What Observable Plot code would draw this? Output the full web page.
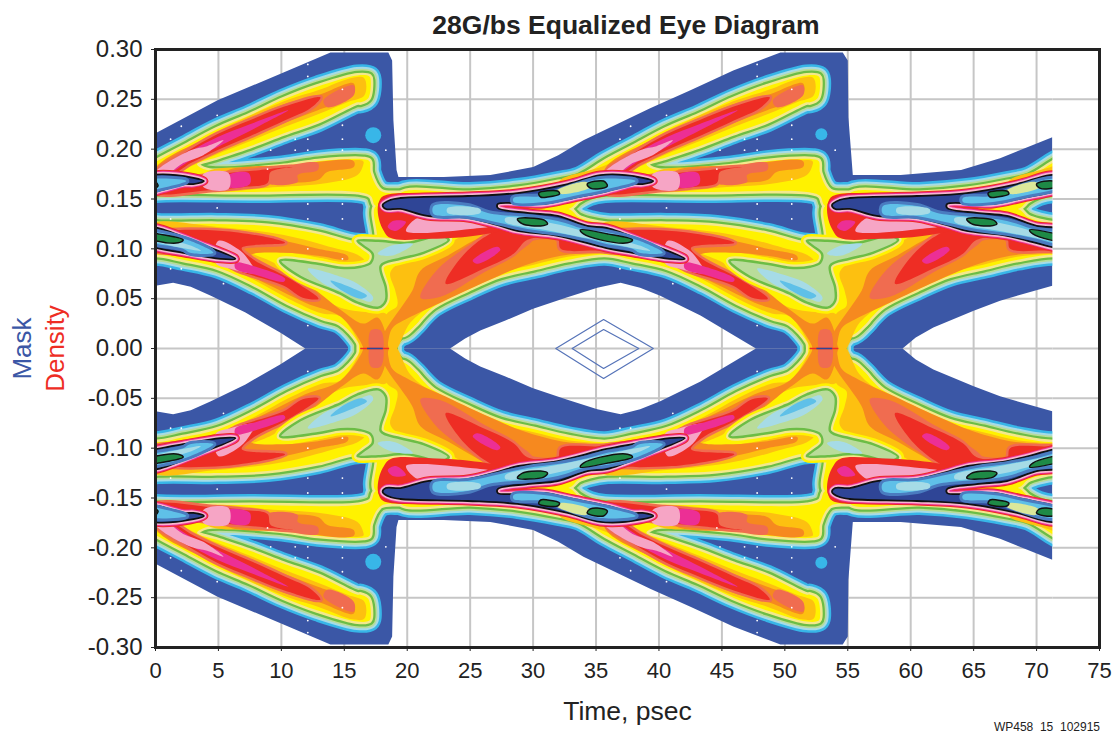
<!DOCTYPE html>
<html><head><meta charset="utf-8">
<script src="https://cdn.jsdelivr.net/npm/d3@7"></script>
<script src="https://cdn.jsdelivr.net/npm/@observablehq/plot@0.6"></script>
<style>
body{margin:0;background:#fff;width:1114px;height:735px;overflow:hidden;font-family:"Liberation Sans",Arial,sans-serif}
#title{height:40px;line-height:50px;font-weight:bold;font-size:26.5px;color:#222;text-align:center;width:1252px}
#cap{height:15px;line-height:15px;font-size:12px;color:#222;text-align:right;width:1100px}
svg{display:block}
</style></head><body>
<div id="title">28G/bs Equalized Eye Diagram</div>
<div id="chart"></div>
<div id="cap">WP458&nbsp; 15&nbsp; 102915</div>
<script>
const xTicks=[0,5,10,15,20,25,30,35,40,45,50,55,60,65,70,75];
const yTicks=[-0.30,-0.25,-0.20,-0.15,-0.10,-0.05,0,0.05,0.10,0.15,0.20,0.25,0.30];
const cycles=[-35.7,0,35.7,71.4];
// blue mask outline, upper half
const mask=[[0,.216],[4.93,.249],[10.17,.277],[13.9,.297],[18.5,.297],[18.8,.289],[18.9,.229],[19.15,.179],[19.3,.172],[22.9,.172],[26.6,.174],[30,.182],[32,.194],[34,.209],[39.3,.241],[42.5,.259],[45.9,.279],[49.65,.297],[54.6,.297],[55,.289],[55.05,.232],[55.4,.174],[59.2,.174],[64,.179],[67.1,.191],[71.25,.212],[71.25,.063],[67.1,.048],[65,.038],[61.8,.021],[60.4,.011],[59.35,0],[47.7,0],[45.7,.015],[43.3,.033],[40.1,.053],[38.5,.061],[36.95,.066],[35.1,.061],[32.6,.051],[30,.04],[27.8,.028],[25.8,.018],[24.6,.01],[23.4,0],[11.9,0],[10.9,.008],[9.9,.016],[7.15,.036],[4.4,.053],[2.8,.062],[1.4,.066],[0,.063]];
const diamondOuter=[[31.8,0],[35.6,.029],[39.55,0],[35.6,-.03]];
const diamondInner=[[33.1,0],[35.6,.019],[38.4,0],[35.6,-.02]];
// yellow contours, one period
const bandTop=[[-16.2,.156],[-10.7,.156],[-6.9,.16],[-3.7,.167],[-2,.172],[.1,.188],[2.2,.202],[4.9,.22],[7.5,.234],[10.2,.25],[12.9,.263],[16.05,.274],[17,.273],[17.1,.269],[16.9,.251],[16.3,.247],[16.05,.247],[12.9,.228],[10.2,.216],[7.5,.203],[4.9,.192],[3.3,.185],[4.1,.179],[10.2,.183],[12.9,.188],[16.5,.19],[17,.188],[17.1,.176],[17.9,.158],[19.5,.156],[21.05,.156],[21.05,.138],[17.5,.143],[17.1,.153],[16.05,.157],[7.5,.157],[0,.157],[-1.2,.154],[-2.1,.148],[-2.9,.14],[-16.2,.14]];
const bandLow=[[-16.2,.14],[-2.9,.14],[-2.1,.132],[-1.2,.128],[.2,.125],[4.9,.125],[8.9,.123],[12.9,.115],[16.05,.105],[17.5,.108],[17.5,.143],[21.05,.143],[21.05,.03],[19.5,.014],[18.9,.005],[18.8,-.004],[16.3,-.004],[16.1,.006],[14.7,.025],[13.25,.031],[10.55,.046],[7.95,.064],[5,.081],[2.2,.089],[0,.094],[-2.9,.089],[-5.6,.081],[-8.3,.073],[-10.9,.059],[-13.6,.042],[-16.2,.014]];
// gold
const goldLeft=[[-.4,.124],[4.9,.122],[10.2,.114],[14.15,.101],[16.05,.094],[16.6,.088],[16.05,.082],[13.35,.09],[10.7,.096],[7.3,.098],[9.4,.086],[11,.07],[14.7,.041],[17.3,.036],[18.4,.034],[18.4,-.004],[16.3,-.004],[16.3,.001],[14.7,.032],[13.25,.035],[10.55,.05],[7.95,.068],[5,.085],[2.2,.092],[.1,.096],[-.4,.096]];
const goldRight=[[18.4,.035],[19.2,.043],[19.05,.058],[18.65,.076],[19.45,.086],[21.05,.09],[22.9,.103],[24.8,.116],[26.05,.123],[27.4,.124],[31.95,.115],[35.35,.101],[40.1,.091],[38,.097],[35.35,.095],[32.75,.092],[30.05,.084],[27.4,.076],[24.8,.062],[22.1,.045],[20.25,.026],[18.9,-.004],[17.5,-.004]];
const goldRidge=[[-3.6,.158],[-3.6,.168],[.1,.184],[4.9,.218],[10.2,.248],[12.9,.259],[15.75,.272],[16.6,.271],[16.6,.254],[15.25,.247],[12.9,.235],[10.2,.222],[7.5,.208],[4.9,.195],[3.35,.186],[1.2,.171],[.1,.158]];
const goldMid=[[4.1,.177],[10.2,.181],[12.9,.185],[16.5,.188],[16.5,.184],[16.05,.174],[13.65,.166],[9.7,.162],[3.8,.16]];
// orange
const orangeLeft=[[5.4,.116],[10.2,.108],[12.9,.1],[15.25,.093],[15.3,.089],[12.9,.093],[10.2,.096],[7.5,.093],[8.35,.078],[11.9,.065],[14.7,.039],[16.5,.025],[17.65,.031],[18.4,.008],[18.4,-.004],[16.5,-.004],[16.5,.001],[14.7,.032],[11.9,.046],[7.95,.07],[4.9,.085],[2.2,.093],[.1,.095],[-.4,.098],[-.4,.118]];
const orangeRight=[[18.4,.021],[19.45,.04],[20.4,.058],[21.05,.078],[23.2,.093],[25.25,.108],[26.6,.116],[32.75,.108],[35.35,.098],[32.2,.093],[29.25,.083],[26.4,.068],[22.65,.046],[20,.03],[18.8,.02],[18.2,-.004],[17.5,-.004]];
const orangeRidge=[[.1,.182],[4.9,.216],[10.2,.245],[12.9,.254],[15.75,.266],[15.65,.253],[12.9,.239],[10.2,.226],[7.5,.211],[4.9,.197],[3,.186],[1.2,.174],[.1,.168]];
const orangeMid=[[5.55,.177],[10.7,.184],[15.75,.188],[15.75,.182],[13.65,.177],[12.9,.169],[9.7,.166],[5.55,.163]];
// salmon
const salmonRight=[[21.05,.051],[22.1,.075],[23.7,.093],[25.8,.108],[30.05,.111],[28.45,.093],[26.05,.076],[22.65,.052]];
const salmonRidge=[[13.35,.249],[15.75,.264],[15.75,.254],[13.65,.242]];
const salmonMid=[[8.9,.177],[10.7,.184],[12.9,.186],[12.9,.179],[11.3,.174],[11.3,.167],[8.9,.166]];
const salmonCross=[[17.1,.018],[17.9,.018],[18,-.004],[17.1,-.004]];
// red
const redRight=[[23.05,.065],[24.2,.09],[26.05,.111],[27.65,.12],[31.6,.113],[35.35,.101],[40.1,.091],[38,.094],[35.35,.098],[32.2,.1],[31.95,.11],[29.55,.109],[28.45,.095],[26.05,.08]];
const redLeft=[[5.3,.118],[10.3,.106],[6.85,.101],[7.7,.09],[10.55,.071],[12.95,.05],[11.7,.051],[10.2,.063],[6.6,.078],[4.7,.09],[2.2,.095],[.1,.098],[-.4,.1],[-.4,.113]];
const redRidge=[[.1,.177],[2.4,.197],[4.9,.215],[7.5,.229],[10.3,.243],[13.1,.252],[12.3,.241],[10.3,.229],[7.5,.213],[4.9,.199],[2.8,.186],[1.2,.174]];
const redMid=[[4.4,.174],[7.5,.178],[10.9,.182],[9.15,.177],[8.9,.166],[7,.162],[4.4,.159],[.1,.156],[.1,.163]];
const redLobe=[[17.7,.145],[18.1,.153],[21.05,.153],[21.05,.14],[25,.132],[27.65,.12],[25.8,.114],[21.85,.11],[18.65,.111],[18.05,.12],[17.7,.133]];
// magenta, pink
const pinkLeft=[[5,.108],[6.75,.098],[7.55,.086],[7.95,.076],[5.95,.08],[4.75,.086]];
const magentaRight=[[25.2,.088],[27.15,.102],[27.4,.099],[25.6,.085]];
const magentaLeft=[[6.35,.086],[7.7,.083],[10.3,.07],[10.2,.067],[7.95,.074],[6.35,.08]];
const magentaRidge=[[2.4,.194],[4.9,.212],[7.5,.225],[10.55,.239],[8.35,.224],[4.9,.202],[2.8,.189],[.8,.173]];
const magentaMid=[[5.8,.174],[7.4,.176],[7.5,.165],[5.8,.162]];
const magentaLobe=[[18.45,.122],[18.85,.128],[19.9,.127],[19.1,.118]];
const pinkRidge=[[0,.177],[2.8,.199],[4.1,.203],[5.4,.209],[3.8,.194],[2.2,.186],[1.2,.177],[0,.171]];
const pinkMid=[[3.8,.175],[5.8,.176],[5.8,.16],[3.8,.162]];
const pinkLobe=[[19.9,.118],[20.65,.13],[21.85,.133],[24.8,.131],[26.6,.123],[25,.12],[21.05,.116]];
// lime junction with its lenses
const lime=[[16.05,.108],[17.7,.108],[20,.106],[22.65,.113],[23.3,.109],[21.3,.096],[19.45,.09],[17.9,.083],[18.3,.061],[18.3,.048],[17.7,.041],[16.05,.046],[14.7,.055],[14.15,.058],[11.5,.072],[9.9,.088],[12.9,.085],[14.7,.081],[16.3,.082],[17.1,.086],[17.25,.095],[16.5,.103]];
const lensA=[[12.1,.08],[14.7,.072],[16.05,.065],[17.3,.051],[17.1,.047],[16.05,.051],[14.7,.058],[13.35,.065]];
const lensACore=[[13.9,.068],[15.75,.06],[16.8,.053],[16.3,.05],[14.7,.059]];
const lensB=[[17.65,.095],[18.7,.103],[20.45,.105],[20,.1],[18.7,.093]];
// dark density core
const core=[[18.05,.144],[18.65,.149],[19.45,.151],[24.8,.153],[28.75,.156],[32.75,.165],[35.35,.174],[37.35,.174],[39.55,.168],[38.7,.165],[38,.165],[35.9,.158],[33.2,.151],[30.85,.145],[27.2,.145],[27.2,.141],[29.55,.136],[31.95,.133],[34.3,.123],[35.85,.121],[39.25,.105],[42.05,.09],[40.85,.09],[37.9,.096],[35.75,.101],[31.95,.113],[28.75,.118],[27.4,.123],[24.8,.131],[21.6,.133],[19.45,.14],[18.3,.14]];
const coreLow=[[22.1,.143],[24.8,.143],[26.4,.136],[27.4,.134],[29.55,.132],[31.95,.128],[34.3,.119],[35.75,.117],[38.45,.108],[40.3,.096],[38.45,.096],[37.9,.1],[35.75,.105],[34.3,.11],[31.95,.116],[29.55,.12],[27.4,.126],[24.8,.133],[22.1,.135]];
const coreHigh=[[28.45,.151],[30.85,.153],[32.75,.161],[35.35,.17],[38.15,.168],[35.9,.16],[33.2,.153],[30.85,.147],[28.45,.147]];
const paleTrunk=[[23.2,.141],[25.8,.14],[25.8,.136],[23.2,.136]];
const paleBranch=[[27.8,.131],[31.4,.126],[34.55,.116],[38.55,.103],[39.3,.098],[37.75,.101],[34.55,.11],[31.4,.118],[27.8,.127]];
const paleHigh=[[31.85,.158],[34.2,.167],[34.55,.162],[32.2,.155]];
const blob1=[[28.75,.13],[30.85,.129],[31.15,.125],[30.6,.123],[29.15,.125]];
const blob2=[[33.75,.119],[35.9,.115],[37.9,.109],[37.5,.106],[35.35,.109],[34,.115]];
const blob3=[[30.45,.156],[31.95,.158],[32.1,.155],[31.15,.152],[30.6,.152]];
const blob4=[[34.3,.165],[35.6,.168],[35.9,.163],[35.1,.16],[34.55,.161]];
const spotsBig=[{t:17.3,v:.214},{t:17.3,v:-.214}];
const spotsSmall=[{t:52.9,v:.215},{t:52.9,v:-.215}];
const specks=[[1.2,.21],[2.05,.223],[4.9,.234],[12.1,.285],[12.1,.273],[14.85,.26],[14.85,.224],[11.1,.21],[12.1,.21],[14.85,.21],[9.15,.199],[11.1,.199],[12.1,.199],[18.3,.199],[14.85,.199],[12.1,.145],[14.85,.145],[4.9,.141],[14.85,.13],[12.1,.13],[1.2,.08],[2.05,.08],[5.4,.065],[12.1,.023],[12.1,.1],[14.85,.09],[8.9,.18],[14.85,.17],[1.2,.13]];

function rows(polys,repeat=true){
  const out=[];let id=0;
  for(const p of polys)for(const c of (repeat?cycles:[0]))for(const s of [1,-1]){
    id++;for(const [t,v] of p)out.push({t:t+c,v:v*s,id});
  }
  return out;
}
function shape(polys,o={},repeat=true,curve="catmull-rom-closed"){
  return Plot.line(rows(polys,repeat),{x:"t",y:"v",z:"id",curve,fill:"none",stroke:"none",strokeLinejoin:"round",clip:true,...o});
}
function halo(polys,c,w){return shape(polys,{stroke:c,strokeWidth:w,fill:"none"});}
function solid(polys,c){return shape(polys,{fill:c});}

const C={blue:"#3b57a6",cyan:"#38b6e8",sky:"#a6dbe6",lime:"#b9dc9a",green:"#6cbd45",pale:"#f3e88c",yellow:"#fff200",gold:"#fdc010",orange:"#f6891f",salmon:"#f06c50",red:"#ee2d24",magenta:"#ec2f95",pink:"#f6a5c5",navy:"#2f4596",mid:"#4a7cc0",core:"#5fc0e8",leaf:"#1e8a46",grid:"#c6c6c6"};
const bands=[bandTop,bandLow];
const reds=[redRight,redLeft,redRidge,redMid];

const chart=Plot.plot({
  width:1114,height:680,marginLeft:155,marginRight:15,marginTop:9,marginBottom:73,
  style:{fontFamily:"'Liberation Sans',Arial,sans-serif",background:"#fff",color:"#222",overflow:"visible"},
  x:{domain:[0,75]},y:{domain:[-0.3,0.3]},
  marks:[
    Plot.ruleY(yTicks,{stroke:C.grid,strokeWidth:2}),
    Plot.ruleX(xTicks,{stroke:C.grid,strokeWidth:2}),
    shape([mask],{fill:C.blue},false,"linear-closed"),
    Plot.dot(spotsBig,{x:"t",y:"v",r:8,fill:C.cyan}),
    Plot.dot(spotsSmall,{x:"t",y:"v",r:6,fill:C.cyan}),
    halo(bands,C.cyan,22),halo(bands,C.sky,17),halo(bands,C.lime,13),halo(bands,C.green,9.5),halo(bands,C.pale,5),
    solid(bands,C.yellow),
    solid([goldLeft,goldRight,goldRidge,goldMid],C.gold),
    solid([orangeLeft,orangeRight,orangeRidge,orangeMid],C.orange),
    solid([salmonRight,salmonRidge,salmonMid,salmonCross],C.salmon),
    halo(reds,C.salmon,5),
    solid(reds,C.red),
    solid([pinkLeft],C.pink),
    solid([magentaRight,magentaLeft,magentaRidge,magentaMid],C.magenta),
    solid([pinkRidge,pinkMid],C.pink),
    halo([lime],C.yellow,12),halo([lime],C.pale,7),
    shape([lime],{fill:C.lime,stroke:C.green,strokeWidth:2.5}),
    solid([lensA,lensB],C.sky),solid([lensACore],C.core),
    solid([redLobe],C.red),solid([magentaLobe],C.magenta),solid([pinkLobe],C.pink),
    halo([core],C.red,9),halo([core],C.magenta,7),halo([core],"#f8b6cf",5),
    shape([core],{fill:C.navy,stroke:"#111",strokeWidth:1.8}),
    halo([coreLow,coreHigh],C.mid,6),
    solid([coreLow,coreHigh],C.core),
    solid([paleTrunk,paleBranch],C.sky),solid([paleHigh],"#dbe89a"),
    shape([blob1,blob2,blob3,blob4],{fill:C.leaf,stroke:"#111",strokeWidth:1.5}),
    Plot.dot(rows([specks]),{x:"t",y:"v",r:0.9,fill:"#fff",clip:true}),
    Plot.ruleY([0],{x1:16.3,x2:18.6,stroke:C.red,strokeWidth:1.5}),
    Plot.ruleY([0],{x1:16.85,x2:18.1,stroke:C.navy,strokeWidth:1.5}),
    Plot.ruleY([0],{x1:52,x2:54.3,stroke:C.red,strokeWidth:1.5}),
    Plot.ruleY([0],{x1:52.55,x2:53.8,stroke:C.navy,strokeWidth:1.5}),
    Plot.rectY([0],{x1:71.3,x2:75,y1:-.3,y2:.3,fill:"#fff"}),
    Plot.ruleY(yTicks,{x1:71.3,x2:75,stroke:C.grid,strokeWidth:2}),
    Plot.line(diamondOuter,{x:d=>d[0],y:d=>d[1],curve:"linear-closed",stroke:"#5573b8",strokeWidth:1.2}),
    Plot.line(diamondInner,{x:d=>d[0],y:d=>d[1],curve:"linear-closed",stroke:"#5573b8",strokeWidth:1.2}),
    Plot.frame({stroke:"#222",strokeWidth:3}),
    Plot.axisX(xTicks,{anchor:"bottom",label:null,fontSize:22,tickSize:4,tickPadding:11,tickFormat:d=>String(d)}),
    Plot.axisY(yTicks,{anchor:"left",label:null,fontSize:24,tickSize:4,tickPadding:9,tickFormat:d=>d.toFixed(2)}),
    Plot.text(["Time, psec"],{frameAnchor:"bottom",dy:64,lineAnchor:"middle",fontSize:26.5,fill:"#222"}),
    Plot.text(["Mask"],{frameAnchor:"left",dx:-133,rotate:-90,fontSize:26,fill:"#3b57a6",textAnchor:"middle"}),
    Plot.text(["Density"],{frameAnchor:"left",dx:-100,rotate:-90,fontSize:26,fill:"#ee2d24",textAnchor:"middle"})
  ]
});
document.getElementById("chart").appendChild(chart);
</script>
</body></html>
